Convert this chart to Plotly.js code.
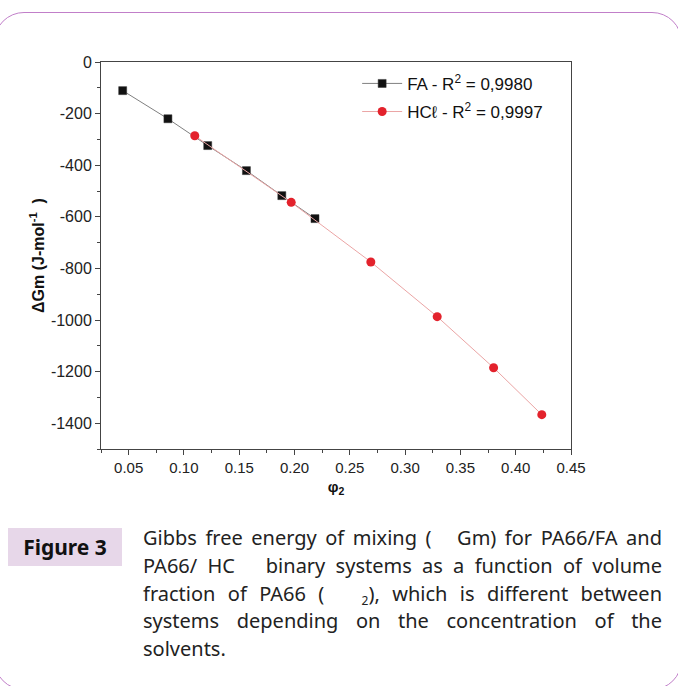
<!DOCTYPE html>
<html>
<head>
<meta charset="utf-8">
<script src="https://cdn.plot.ly/plotly-3.0.1.min.js"></script>
<style>
  html, body { margin:0; padding:0; background:#fff; width:678px; height:686px; overflow:hidden; position:relative; }
  #card { position:absolute; left:-6px; top:12px; width:688px; height:678px; border:1.5px solid #c17fc9; border-radius:30px; box-sizing:border-box; }
  #chart { position:absolute; left:0; top:0; width:678px; height:686px; }
  #figlabel { position:absolute; left:8px; top:528px; width:114px; height:38px; background:#e7d7e9;
     font-family:"Noto Sans",sans-serif; font-weight:bold; font-size:21px; color:#111;
     line-height:38px; text-align:center; }
  #caption { position:absolute; left:143px; top:524px; width:519px; font-family:"Noto Sans",sans-serif;
     font-size:20px; line-height:27.8px; color:#222; }
  #caption .j { display:block; text-align:justify; text-align-last:justify; }
  #caption .l { display:block; text-align:left; }
  sub { font-size:12px; vertical-align:-4px; line-height:0; }
</style>
</head>
<body>
<div id="card"></div>
<div id="chart"></div>
<div id="figlabel">Figure 3</div>
<div id="caption">
  <span class="j">Gibbs free energy of mixing (&nbsp;&nbsp; Gm) for PA66/FA and</span>
  <span class="j">PA66/ HC &nbsp;&nbsp;binary systems as a function of volume</span>
  <span class="j">fraction of PA66 (&nbsp;&nbsp;&nbsp;<sub>2</sub>), which is different between</span>
  <span class="j">systems depending on the concentration of the</span>
  <span class="l">solvents.</span>
</div>
<script>
// Data
const faPhi  = [0.0446, 0.0855, 0.1215, 0.1565, 0.1885, 0.2185];
const faDG   = [-111, -220, -324, -421, -518, -607];
const hclPhi = [0.1098, 0.1970, 0.2690, 0.3290, 0.3800, 0.4236];
const hclDG  = [-286, -544, -775, -987, -1185, -1367];

const faName  = "FA - R<sup>2</sup> = 0,9980";
const hclName = "HCℓ - R<sup>2</sup> = 0,9997";

const xTickVals = [0.05, 0.10, 0.15, 0.20, 0.25, 0.30, 0.35, 0.40, 0.45];
const yTickVals = [0, -200, -400, -600, -800, -1000, -1200, -1400];
const yTickText = ["0", "-200", "-400", "-600", "-800", "-1000", "-1200", "-1400"];

const traces = [
  { x: faPhi, y: faDG, name: faName, legendgroup: "fa", mode: "lines+markers", type: "scatter",
    line: { color: "#808080", width: 1 },
    marker: { symbol: "square", size: 8, color: "#111111", line: { color: "#333", width: 0.5 } } },
  { x: hclPhi, y: hclDG, name: hclName, legendgroup: "hcl", mode: "lines+markers", type: "scatter",
    line: { color: "#eba5a5", width: 1 },
    marker: { symbol: "circle", size: 9, color: "#e3222c" } }
];

const FONT = "Liberation Sans, Arial, sans-serif";

const layout = {
  width: 678, height: 686,
  margin: { l: 101, r: 107, t: 62, b: 237 },
  paper_bgcolor: "rgba(0,0,0,0)", plot_bgcolor: "rgba(0,0,0,0)",
  showlegend: true,
  legend: { x: 0.545, y: 0.99, xanchor: "left", yanchor: "top", bgcolor: "rgba(0,0,0,0)",
            font: { family: FONT, size: 17, color: "#111" }, itemwidth: 40,
            tracegroupgap: 3 },
  xaxis: {
    range: [0.025, 0.45], tickvals: xTickVals, tickformat: ".2f",
    ticks: "outside", ticklen: 5, tickcolor: "#444", showline: true, linecolor: "#444", linewidth: 1,
    mirror: true, showgrid: false, zeroline: false, tickfont: { family: FONT, size: 15, color: "#222" },
    minor: { dtick: 0.025, tick0: 0.025, ticks: "outside", ticklen: 3, tickcolor: "#444", showgrid: false },
    title: { text: "<b>φ<sub>2</sub></b>", font: { family: FONT, size: 15, color: "#111" }, standoff: 6 }
  },
  yaxis: {
    range: [-1500, 0], tickvals: yTickVals, ticktext: yTickText,
    ticks: "outside", ticklen: 5, tickcolor: "#444", showline: true, linecolor: "#444", linewidth: 1,
    mirror: true, showgrid: false, zeroline: false, tickfont: { family: FONT, size: 16, color: "#222" },
    minor: { dtick: 100, tick0: 0, ticks: "outside", ticklen: 3, tickcolor: "#444", showgrid: false },
    title: { text: "<b>ΔGm (J-mol<sup>-1</sup>  )</b>", font: { family: FONT, size: 16, color: "#111" }, standoff: 2 }
  }
};

Plotly.newPlot("chart", traces, layout, { displayModeBar: false, staticPlot: true });
</script>
</body>
</html>
